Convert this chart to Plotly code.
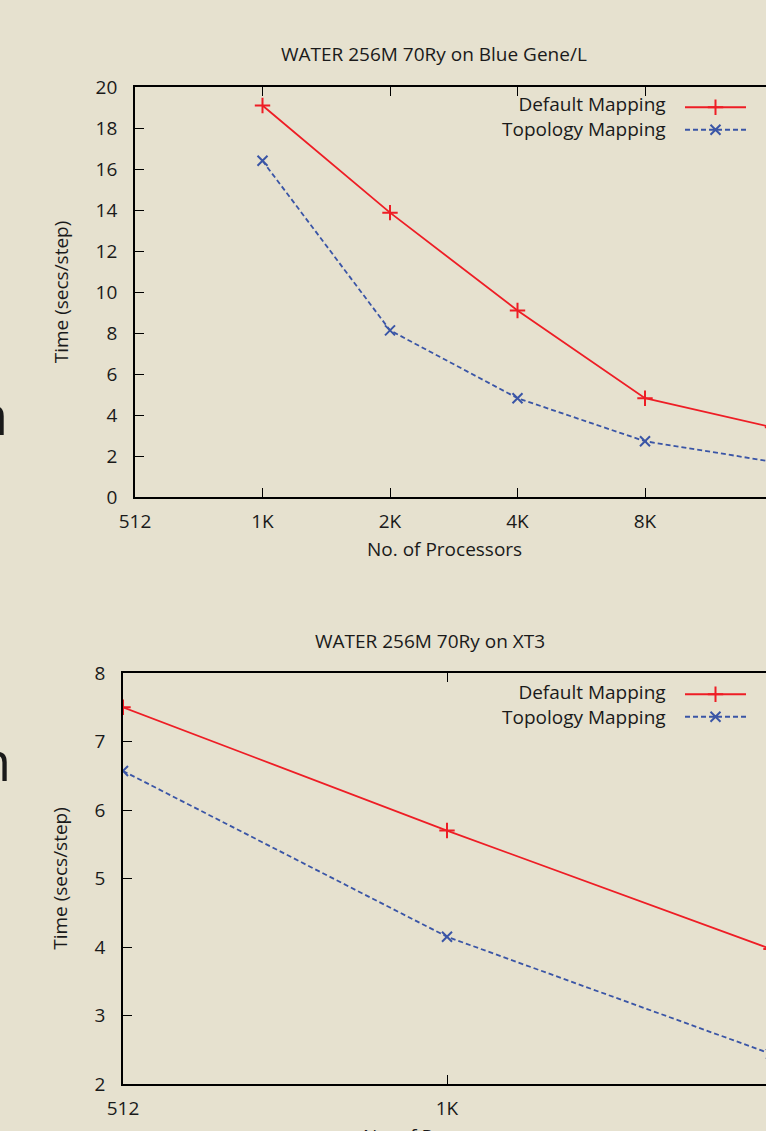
import math
import plotly.graph_objects as go

# ---------------- data ----------------
procs_bgl = [1024, 2048, 4096, 8192, 16384]
default_bgl = [19.1, 13.87, 9.1, 4.82, 3.4]
topology_bgl = [16.4, 8.13, 4.82, 2.72, 1.72]

procs_xt3 = [512, 1024, 2048]
default_xt3 = [7.5, 5.7, 3.97]
topology_xt3 = [6.57, 4.15, 2.44]

tick_vals = [512, 1024, 2048, 4096, 8192, 16384]
tick_text = ["512", "1K", "2K", "4K", "8K", "16K"]

series_names = ["Default Mapping", "Topology Mapping"]
title_bgl = "WATER 256M 70Ry on Blue Gene/L"
title_xt3 = "WATER 256M 70Ry on XT3"
x_title = "No. of Processors"
y_title = "Time (secs/step)"

# ---------------- style ----------------
W, H = 766, 1131
BG = "#e6e1cf"
RED = "#ee1d25"
BLUE = "#3a55a6"
FONT = "Open Sans"
FS = 19
TXT = "#1a1a1a"


def px_x(p):
    return p / W


def px_y(p):
    return 1 - p / H


fig = go.Figure()

red_line = dict(color=RED, width=1.8)
blue_line = dict(color=BLUE, width=1.8, dash="5px,3px")
red_marker = dict(symbol="cross-thin", size=11, line=dict(color=RED, width=2))
blue_marker = dict(symbol="x-thin", size=10, line=dict(color=BLUE, width=2))

fig.add_trace(go.Scatter(x=procs_bgl, y=default_bgl, name="", mode="lines+markers",
                         line=red_line, marker=red_marker, xaxis="x", yaxis="y", legend="legend",
                         hovertemplate="%{y}<extra>" + series_names[0] + "</extra>"))
fig.add_trace(go.Scatter(x=procs_bgl, y=topology_bgl, name="", mode="lines+markers",
                         line=blue_line, marker=blue_marker, xaxis="x", yaxis="y", legend="legend",
                         hovertemplate="%{y}<extra>" + series_names[1] + "</extra>"))
fig.add_trace(go.Scatter(x=procs_xt3, y=default_xt3, name="", mode="lines+markers",
                         line=red_line, marker=red_marker, xaxis="x2", yaxis="y2", legend="legend2",
                         hovertemplate="%{y}<extra>" + series_names[0] + "</extra>"))
fig.add_trace(go.Scatter(x=procs_xt3, y=topology_xt3, name="", mode="lines+markers",
                         line=blue_line, marker=blue_marker, xaxis="x2", yaxis="y2", legend="legend2",
                         hovertemplate="%{y}<extra>" + series_names[1] + "</extra>"))

# pixel geometry
top_l, top_t, top_b = 135, 87, 497
bot_l, bot_t, bot_b = 123, 673, 1084
oct_top = 127.5
oct_bot = 324.0
l2 = math.log10(2)
top_range = [math.log10(512), math.log10(512) + (W - top_l) / oct_top * l2]
bot_range = [math.log10(512), math.log10(512) + (W - bot_l) / oct_bot * l2]

axis_common = dict(showline=True, linecolor="black", linewidth=1.8, ticks="inside",
                   ticklen=9, tickwidth=1.3, tickcolor="black", showgrid=False, zeroline=False,
                   automargin=False, tickfont=dict(family=FONT, size=FS, color=TXT))
right_ticks = dict(showticklabels=False, showline=False, ticks="inside", ticklen=3, tickwidth=1.3,
                   tickcolor="black", showgrid=False, zeroline=False, automargin=False)

fig.update_layout(
    template="none",
    width=W, height=H,
    margin=dict(l=0, r=0, t=0, b=0, pad=0, autoexpand=False),
    paper_bgcolor=BG, plot_bgcolor=BG,
    font=dict(family=FONT, size=FS, color=TXT),
    hovermode="closest",
    xaxis=dict(type="log", domain=[px_x(top_l), 1], range=top_range, anchor="y",
               tickvals=tick_vals, ticktext=tick_text, mirror="ticks", ticklabelstandoff=6,
               **axis_common),
    yaxis=dict(domain=[px_y(top_b), px_y(top_t)], range=[0, 20], dtick=2, anchor="x",
               ticklabelstandoff=12,
               title=dict(text=y_title, standoff=22, font=dict(family=FONT, size=FS, color=TXT)),
               **axis_common),
    yaxis3=dict(overlaying="y", side="right", matches="y", range=[0, 20], dtick=2, anchor="x",
                **right_ticks),
    xaxis2=dict(type="log", domain=[px_x(bot_l), 1], range=bot_range, anchor="y2",
                tickvals=tick_vals, ticktext=tick_text, mirror="ticks", ticklabelstandoff=6,
                **axis_common),
    yaxis2=dict(domain=[px_y(bot_b), px_y(bot_t)], range=[2, 8], dtick=1, anchor="x2",
                ticklabelstandoff=12,
                title=dict(text=y_title, standoff=22, font=dict(family=FONT, size=FS, color=TXT)),
                **axis_common),
    yaxis4=dict(overlaying="y2", side="right", matches="y2", range=[2, 8], dtick=1, anchor="x2",
                **right_ticks),
    legend=dict(x=px_x(680), y=px_y(91), xanchor="left", yanchor="top", bgcolor="rgba(0,0,0,0)",
                borderwidth=0, itemwidth=61, tracegroupgap=0, font=dict(size=15)),
    legend2=dict(x=px_x(680), y=px_y(678), xanchor="left", yanchor="top", bgcolor="rgba(0,0,0,0)",
                 borderwidth=0, itemwidth=61, tracegroupgap=0, font=dict(size=15)),
    showlegend=True,
)

legend_text = "<br>".join(series_names)
annos = []
annos.append(dict(text=title_bgl, x=px_x(434), y=px_y(54), xref="paper", yref="paper",
                  showarrow=False, xanchor="center", yanchor="middle", font=dict(family=FONT, size=FS)))
annos.append(dict(text=title_xt3, x=px_x(430), y=px_y(641), xref="paper", yref="paper",
                  showarrow=False, xanchor="center", yanchor="middle", font=dict(family=FONT, size=FS)))
# legend labels (text left of the key, as in the original)
annos.append(dict(text=legend_text, x=px_x(668), y=px_y(117), xref="paper", yref="paper", align="right",
                  showarrow=False, xanchor="right", yanchor="middle", font=dict(family=FONT, size=FS)))
annos.append(dict(text=legend_text, x=px_x(668), y=px_y(704), xref="paper", yref="paper", align="right",
                  showarrow=False, xanchor="right", yanchor="middle", font=dict(family=FONT, size=FS)))
# x axis titles
annos.append(dict(text=x_title, x=px_x(444), y=px_y(549), xref="paper", yref="paper",
                  showarrow=False, xanchor="center", yanchor="middle", font=dict(family=FONT, size=FS)))
annos.append(dict(text=x_title, x=px_x(440), y=px_y(1121), xref="paper", yref="paper",
                  showarrow=False, xanchor="center", yanchor="top", font=dict(family=FONT, size=FS)))
# slivers of slide text at the left edge
annos.append(dict(text="n", x=px_x(10), y=px_y(414), xref="paper", yref="paper",
                  showarrow=False, xanchor="right", yanchor="middle", font=dict(family=FONT, size=54)))
annos.append(dict(text="n", x=px_x(13), y=px_y(760), xref="paper", yref="paper",
                  showarrow=False, xanchor="right", yanchor="middle", font=dict(family=FONT, size=54)))
fig.update_layout(annotations=annos)

fig.write_html(
    "out.html",
    config={"displayModeBar": False},
    post_script=("document.documentElement.style.margin='0';document.body.style.margin='0';"
                 "document.body.style.background='" + BG + "';document.body.style.overflow='hidden';"),
)
